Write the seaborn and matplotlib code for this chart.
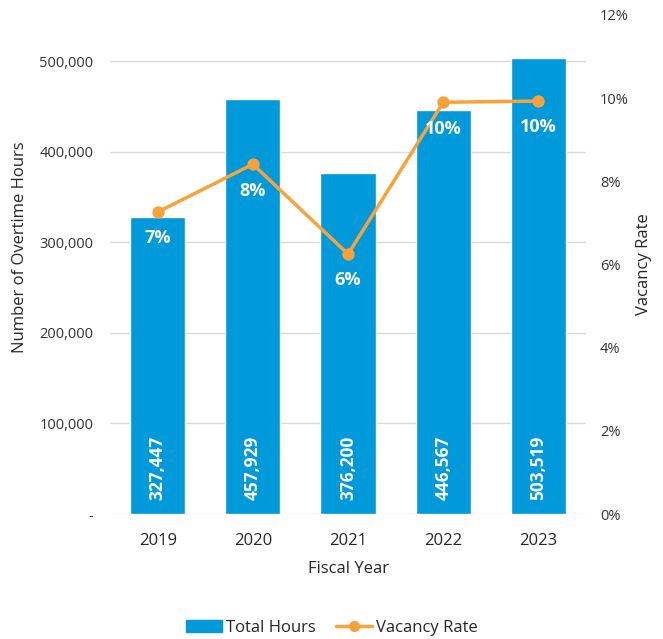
import pandas as pd
import matplotlib
matplotlib.use('Agg')
import matplotlib.pyplot as plt
import seaborn as sns
from matplotlib.ticker import FuncFormatter, PercentFormatter
from matplotlib.patches import Patch
from matplotlib.lines import Line2D

# Daten
years = ['2019', '2020', '2021', '2022', '2023']
total_hours = [327447, 457929, 376200, 446567, 503519]
vacancy_rate = [0.0726, 0.0841, 0.0625, 0.0990, 0.0993]

blue = '#0099DA'
orange = '#F9A23A'
grey_text = '#333333'

df = pd.DataFrame({'year': years, 'hours': total_hours, 'rate': vacancy_rate})

sns.set_style('white')
plt.rcParams['font.family'] = ['Open Sans', 'DejaVu Sans']

fig = plt.figure(figsize=(6.63, 6.39), dpi=100)
ax = fig.add_axes([0.166, 0.1956, 0.718, 0.781])

sns.barplot(data=df, x='year', y='hours', color=blue, width=0.58,
            saturation=1, ax=ax, zorder=2)
ax.set_ylim(0, 551000)
ax.set_xlim(-0.5, 4.5)
ax.set_yticks([0, 100000, 200000, 300000, 400000, 500000])
ax.yaxis.set_major_formatter(FuncFormatter(lambda v, p: '-' if v == 0 else f'{int(v):,}'))
ax.grid(axis='y', color='#d9d9d9', linewidth=1, zorder=0)
for s in ax.spines.values():
    s.set_visible(False)
ax.tick_params(axis='y', labelsize=10.5, colors=grey_text, length=0, pad=12)
ax.tick_params(axis='x', labelsize=12, colors='#262626', length=0, pad=14)
ax.set_xlabel('Fiscal Year', fontsize=12, color='#262626', labelpad=8)
ax.set_ylabel('Number of Overtime Hours', fontsize=12, color='#262626')
ax.yaxis.set_label_coords(-0.172, 0.534)

# Werte in den Balken
for i, v in enumerate(total_hours):
    ax.annotate(f'{v:,}', xy=(i, 0), xytext=(0, 10), textcoords='offset points',
                rotation=90, ha='center', va='bottom', color='white',
                fontsize=12.5, fontweight='bold')

# Zweite Achse: Vacancy Rate
ax2 = ax.twinx()
sns.pointplot(data=df, x='year', y='rate', color=orange, markers='o',
              linewidth=2.5, markersize=7, ax=ax2)
ax2.set_ylim(0, 0.12)
ax2.set_xlim(-0.5, 4.5)
ax2.set_yticks([0, 0.02, 0.04, 0.06, 0.08, 0.10, 0.12])
ax2.yaxis.set_major_formatter(PercentFormatter(1.0, decimals=0))
for s in ax2.spines.values():
    s.set_visible(False)
ax2.tick_params(axis='y', labelsize=10.5, colors=grey_text, length=0, pad=10)
ax2.set_ylabel('Vacancy Rate', fontsize=12, color='#262626')
ax2.yaxis.set_label_coords(1.105, 0.5)
ax2.set_xlabel('')

for i, r in enumerate(vacancy_rate):
    ax2.annotate(f'{r:.0%}', xy=(i, r), xytext=(0, -19), textcoords='offset points',
                 ha='center', va='center', color='white', fontsize=13, fontweight='bold')

handles = [Patch(color=blue, label='Total Hours'),
           Line2D([0], [0], color=orange, lw=2.5, marker='o', markersize=7, label='Vacancy Rate')]
fig.legend(handles=handles, loc='center', bbox_to_anchor=(0.5, 0.017), ncol=2,
           frameon=False, fontsize=12, handlelength=2.2, handletextpad=0.2,
           columnspacing=1.2, labelcolor='#262626')

fig.savefig('out.png', dpi=100)
